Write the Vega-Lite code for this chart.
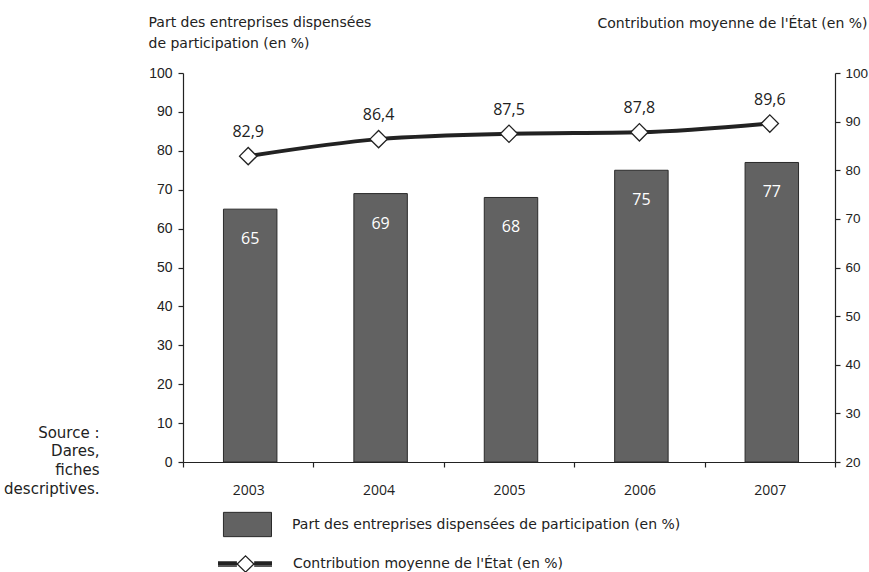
{
  "$schema": "https://vega.github.io/schema/vega-lite/v6.json",
  "width": 652,
  "height": 389,
  "autosize": {"type": "none"},
  "padding": {"left": 183, "top": 73, "right": 34, "bottom": 110},
  "background": "white",
  "config": {
    "view": {"stroke": null},
    "locale": {"number": {"decimal": ",", "thousands": " ", "grouping": [3], "currency": ["", " €"]}},
    "axis": {"grid": false, "domainColor": "#222", "tickColor": "#222", "labelColor": "#222", "titleColor": "#222", "domainWidth": 1.2, "tickWidth": 1.2, "labelOverlap": false}
  },
  "data": {"values": [
    {"annee": "2003", "part": 65, "contribution": 82.9},
    {"annee": "2004", "part": 69, "contribution": 86.4},
    {"annee": "2005", "part": 68, "contribution": 87.5},
    {"annee": "2006", "part": 75, "contribution": 87.8},
    {"annee": "2007", "part": 77, "contribution": 89.6}
  ]},
  "encoding": {
    "x": {
      "field": "annee", "type": "nominal",
      "scale": {"paddingInner": 0, "paddingOuter": 0},
      "axis": {
        "labelAngle": 0, "tickBand": "extent", "tickSize": 5, "labelPadding": 16,
        "labelFont": "Open Sans", "labelFontSize": 14,
        "title": ["Source :", "Dares,", "fiches", "descriptives."],
        "titleFont": "DejaVu Sans", "titleFontSize": 15, "titleFontWeight": "normal",
        "titleAlign": "right", "titleBaseline": "top", "titleAnchor": null,
        "titleX": -84, "titleY": -37, "titleLineHeight": 18.8
      }
    }
  },
  "layer": [
    {
      "layer": [
        {
          "mark": {"type": "bar", "width": {"band": 0.41}, "stroke": "#2a2a2a", "strokeWidth": 1, "xOffset": 2},
          "encoding": {
            "y": {
              "field": "part", "type": "quantitative",
              "scale": {"domain": [0, 100], "nice": false},
              "axis": {
                "orient": "left", "values": [0,10,20,30,40,50,60,70,80,90,100], "tickCount": 11,
                "tickSize": 5, "labelPadding": 6,
                "labelFont": "Liberation Sans", "labelFontSize": 14,
                "title": ["Part des entreprises dispensées", "de participation (en %)"],
                "titleFont": "DejaVu Sans", "titleFontSize": 14, "titleFontWeight": "normal",
                "titleAngle": 0, "titleAlign": "left", "titleBaseline": "middle", "titleAnchor": null,
                "titleX": -35, "titleY": -51, "titleLineHeight": 21
              }
            },
            "fill": {
              "datum": "Part des entreprises dispensées de participation (en %)",
              "type": "nominal",
              "scale": {"range": ["#626262"]},
              "legend": {
                "orient": "none", "legendX": 34, "legendY": 424, "padding": 0, "title": null,
                "symbolType": "M-0.78,-0.45H1V0.45H-0.78Z", "symbolSize": 2916,
                "symbolStrokeColor": "#2a2a2a", "symbolStrokeWidth": 1,
                "labelFont": "DejaVu Sans", "labelFontSize": 14, "labelColor": "#222",
                "labelOffset": 20, "labelLimit": 700
              }
            }
          }
        },
        {
          "mark": {"type": "text", "color": "white", "font": "Open Sans", "fontSize": 16, "baseline": "middle", "dy": 30, "dx": 2},
          "encoding": {
            "y": {"field": "part", "type": "quantitative"},
            "text": {"field": "part", "type": "quantitative", "format": "d"}
          }
        }
      ]
    },
    {
      "layer": [
        {
          "mark": {"type": "line", "interpolate": "monotone", "strokeWidth": 4, "color": "#222"},
          "encoding": {
            "y": {
              "field": "contribution", "type": "quantitative",
              "scale": {"domain": [20, 100], "nice": false},
              "axis": {
                "orient": "right", "values": [20,30,40,50,60,70,80,90,100],
                "tickSize": 5, "labelPadding": 5,
                "labelFont": "Liberation Sans", "labelFontSize": 13.5,
                "title": "Contribution moyenne de l'État (en %)",
                "titleFont": "DejaVu Sans", "titleFontSize": 14, "titleFontWeight": "normal",
                "titleAngle": 0, "titleAlign": "right", "titleBaseline": "middle", "titleAnchor": null,
                "titleX": 32, "titleY": -50
              }
            },
            "stroke": {
              "datum": "Contribution moyenne de l'État (en %)",
              "type": "nominal",
              "scale": {"range": ["#222"]},
              "legend": {
                "orient": "none", "legendX": 34, "legendY": 463, "padding": 0, "title": null,
                "symbolType": "M-1,-0.075H-0.3M-1,-0.025H-0.3M-1,0.025H-0.3M-1,0.075H-0.3M0.34,-0.075H1M0.34,-0.025H1M0.34,0.025H1M0.34,0.075H1M0.02,-0.3L0.33,0L0.02,0.3L-0.29,0Z",
                "symbolSize": 2916,
                "symbolFillColor": "white", "symbolStrokeWidth": 1.3,
                "labelFont": "DejaVu Sans", "labelFontSize": 14, "labelColor": "#222",
                "labelOffset": 20, "labelLimit": 700
              }
            }
          }
        },
        {
          "mark": {"type": "point", "shape": "diamond", "size": 300, "filled": true, "fill": "white", "stroke": "#222", "strokeWidth": 1.3, "opacity": 1},
          "encoding": {
            "y": {"field": "contribution", "type": "quantitative"}
          }
        },
        {
          "mark": {"type": "text", "color": "#222", "font": "Open Sans", "fontSize": 16, "baseline": "middle", "dy": -24},
          "encoding": {
            "y": {"field": "contribution", "type": "quantitative"},
            "text": {"field": "contribution", "type": "quantitative", "format": ".1f"}
          }
        }
      ]
    }
  ],
  "resolve": {"scale": {"y": "independent", "fill": "independent", "stroke": "independent"}}
}
